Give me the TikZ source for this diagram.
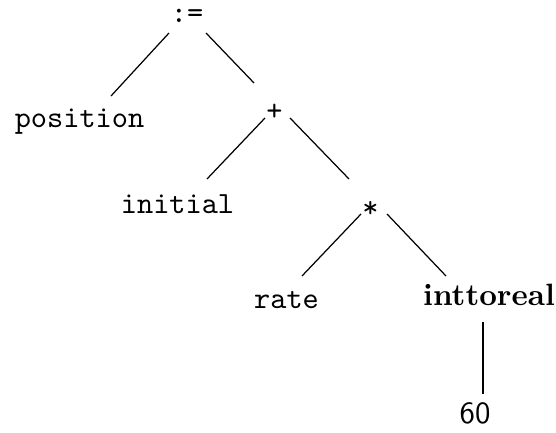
\documentclass[tikz,border=0pt]{standalone}
\usepackage{tikz}

\begin{document}
\begin{tikzpicture}[x=0.3247pt, y=-0.3247pt]
    \useasboundingbox (0,0) rectangle (556,433);
    \path (187,23) node[anchor=base, inner sep=0pt] (assign) {\texttt{:=}};

    \path (assign.base) + (-107.5, 105) node[anchor=base, inner sep=0pt] (position) {\texttt{position}};
    \path (assign.base) + (87.5, 98) node[anchor=base, inner sep=0pt] (plus) {\texttt{+}};

    \path (plus.base) + (-97, 93) node[anchor=base, inner sep=0pt] (initial) {\texttt{initial}};
    \path (plus.base) + (96, 97) node[anchor=base, inner sep=0pt] (times) {\texttt{*}};

    \path (times.base) + (-84, 91) node[anchor=base, inner sep=0pt] (rate) {\texttt{rate}};
    \path (times.base) + (118.5, 88) node[anchor=base, inner sep=0pt] (inttoreal) {\textbf{inttoreal}};

    \path (inttoreal.base) + (-14, 117) node[anchor=base, inner sep=0pt] (sixty) {\textsf{60}};

    \draw ([shift={(-18,10)}]assign.base) -- ([shift={(31.5,-32)}]position.base);
    \draw ([shift={(19,10)}]assign.base) -- ([shift={(-20.5,-38)}]plus.base);
    \draw ([shift={(-9.5,-3)}]plus.base) -- ([shift={(29.5,-35)}]initial.base);
    \draw ([shift={(15.5,-3)}]plus.base) -- ([shift={(-21.5,-39)}]times.base);
    \draw ([shift={(-9.5,-4)}]times.base) -- ([shift={(15.5,-33)}]rate.base);
    \draw ([shift={(16.5,-4)}]times.base) -- ([shift={(-43,-30)}]inttoreal.base);
    \draw ([shift={(-6,16)}]inttoreal.base) -- ([shift={(8,-29)}]sixty.base);
\end{tikzpicture}
\end{document}
